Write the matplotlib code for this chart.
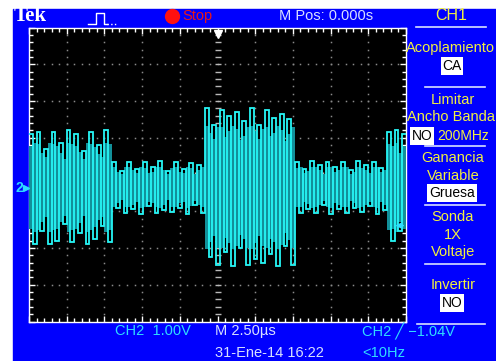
import numpy as np
import matplotlib
matplotlib.use("Agg")
import matplotlib.pyplot as plt
from matplotlib.patches import Rectangle
from matplotlib.lines import Line2D
from matplotlib.ticker import MultipleLocator

# time segments (us) and half-cycle levels (V)
seg_bounds = [-12.5, -7.0, -0.83, 5.13, 11.25, 12.5]
seg1 = [1.45, -1.55, 1.50, -1.20, 1.05, -1.55, 1.50, -1.45, 1.20, -1.00, 1.55,
        -1.50, 1.45, -1.25, 1.00, -1.55, 1.50, -1.40, 1.15, -1.05, 1.55, -1.50]
seg2 = [0.70, -0.55, 0.45, -0.70, 0.70, -0.60, 0.50, -0.72, 0.68, -0.50, 0.55, -0.70,
        0.72, -0.62, 0.45, -0.68, 0.70, -0.55, 0.50, -0.72, 0.66, -0.48, 0.60, -0.70]
seg3 = [2.15, -1.90, 1.70, -2.10, 2.10, -1.75, 1.95, -2.15, 2.05, -1.65, 1.80, -2.10,
        2.15, -1.95, 1.70, -2.05, 2.10, -1.80, 1.90, -2.15, 2.00, -1.60, 1.85, -2.10]
seg4 = [0.68, -0.70, 0.50, -0.58, 0.72, -0.70, 0.62, -0.48, 0.70, -0.72, 0.55, -0.60,
        0.70, -0.70, 0.48, -0.55, 0.72, -0.68, 0.60, -0.50, 0.70, -0.72, 0.52, -0.62]
seg5 = [1.50, -1.45, 1.55, -1.20, 1.45]
segments = [seg1, seg2, seg3, seg4, seg5]

ground = -0.35     # ground marker, in divisions from centre
volts_div = 1.00
trig_level = -1.04

W, H = 496, 361
YEL = '#f2f040'
CYAN = '#30dcff'
PALE = '#d8e0ff'
NARROW = ['Liberation Sans Narrow', 'Liberation Sans', 'DejaVu Sans']

fig = plt.figure(figsize=(W / 100, H / 100), dpi=100)
fig.patch.set_facecolor('white')
fig.add_artist(Rectangle((13 / W, 0), 1 - 13 / W, 1 - 9 / H,
                         transform=fig.transFigure, color='#0000fe', zorder=0))


def fx(x):
    return x / W


def fy(y):
    return 1 - y / H


def ftxt(x, y, s, color=YEL, size=10, ha='center', **kw):
    fig.text(fx(x), fy(y), s, color=color, fontsize=size, ha=ha, va='center',
             family=NARROW, **kw)


def hline(x0, x1, y, color=PALE):
    fig.add_artist(Line2D([fx(x0), fx(x1)], [fy(y), fy(y)], color=color, lw=1.2))


def boxed(x, y, s):
    ftxt(x, y, s, color='black', size=10,
         bbox=dict(boxstyle='square,pad=0.12', fc='white', ec='none'))


ax = fig.add_axes([fx(29), fy(321.5), 377 / W, 294 / H])
ax.set_facecolor('black')
ax.set_xlim(-12.5, 12.5)
ax.set_ylim(-4, 4)

# graticule
for gx in np.arange(-10, 12.5, 2.5):
    if gx == 0:
        continue
    yy = np.arange(-4, 4.01, 0.2)
    ax.plot(np.full_like(yy, gx), yy, 's', ms=1.1, color='#8a8a8a', mew=0)
for gy in np.arange(-3, 4, 1.0):
    if gy == 0:
        continue
    xx = np.arange(-12.5, 12.51, 0.5)
    ax.plot(xx, np.full_like(xx, gy), 's', ms=1.1, color='#8a8a8a', mew=0)
yy = np.arange(-4, 4.01, 0.2)
ax.plot(np.zeros_like(yy), yy, '_', ms=4, color='#b8b8b8', mew=1)
xx = np.arange(-12.5, 12.51, 0.5)
ax.plot(xx, np.zeros_like(xx), '|', ms=4, color='#b8b8b8', mew=1)

ax.xaxis.set_major_locator(MultipleLocator(2.5))
ax.xaxis.set_minor_locator(MultipleLocator(0.5))
ax.yaxis.set_major_locator(MultipleLocator(1))
ax.yaxis.set_minor_locator(MultipleLocator(0.2))
ax.tick_params(which='both', direction='in', color='white', top=True, right=True,
               labelbottom=False, labelleft=False, width=1)
ax.tick_params(which='major', length=4)
ax.tick_params(which='minor', length=3)
for sp in ax.spines.values():
    sp.set_color('white')
    sp.set_linewidth(1)

# CH2 trace
edges = [seg_bounds[0]]
levels = []
for i, seg in enumerate(segments):
    e = np.linspace(seg_bounds[i], seg_bounds[i + 1], len(seg) + 1)
    edges.extend(e[1:])
    levels.extend(seg)
edges = np.array(edges)
amp = np.array(levels) / volts_div
# dim persistence band behind the bright trace
band = np.abs(amp) * 0.78
ax.stairs(ground + band, edges, baseline=ground - band, fill=True,
          color='#12909a', zorder=3)
ax.stairs(amp + ground, edges, baseline=None, color='#26f6f6', lw=1.3, zorder=4)

# markers
ax.plot(0, 3.82, 'v', color='white', ms=6, clip_on=False, zorder=6)
ty = trig_level / volts_div + ground
ax.annotate('', xy=(11.6, ty), xytext=(12.5, ty),
            arrowprops=dict(arrowstyle='-|>', color=CYAN, lw=1.2, mutation_scale=8),
            zorder=6)
ftxt(19, 188, '2', color=CYAN, size=10, weight='bold')
fig.add_artist(Line2D([fx(26)], [fy(188)], marker='>', ms=4, color=CYAN))

# top bar
fig.text(fx(14), fy(16), 'Tek', color='white', fontsize=15, weight='bold',
         family=['Liberation Serif', 'DejaVu Serif'], ha='left', va='center')
px = [88, 96, 96, 98, 98, 104, 104, 107]
py = [24, 24, 13, 13, 13, 13, 24, 24]
fig.add_artist(Line2D([fx(v) for v in px], [fy(v) for v in py], color='white', lw=1))
fig.add_artist(Line2D([fx(107), fx(117)], [fy(24), fy(24)], color='white', lw=1, ls=':'))
fig.add_artist(Line2D([fx(172)], [fy(16)], marker='o', ms=11, color='#ff1010', mew=0))
ftxt(182, 16, 'Stop', color='#e81818', size=10.5, ha='left')
ftxt(326, 16, 'M Pos: 0.000s', color=PALE, size=10.5)
ftxt(451, 15, 'CH1', size=11.5)
hline(416, 486, 27)

# side menu
ftxt(450, 48, 'Acoplamiento', size=10.5)
boxed(452, 66, 'CA')
hline(425, 485, 87)
ftxt(453, 100, 'Limitar', size=10.5)
ftxt(451, 117, 'Ancho Banda', size=10.5)
boxed(422, 136, 'NO')
ftxt(437, 136, '200MHz', size=10, ha='left')
hline(425, 485, 146)
ftxt(453, 158, 'Ganancia', size=10.5)
ftxt(453, 176, 'Variable', size=10.5)
boxed(452, 193, 'Gruesa')
hline(425, 485, 205)
ftxt(453, 217, 'Sonda', size=10.5)
ftxt(453, 235, '1X', size=10.5)
ftxt(453, 252, 'Voltaje', size=10.5)
hline(425, 485, 264)
ftxt(453, 285, 'Invertir', size=10.5)
boxed(452, 303, 'NO')
hline(417, 485, 324)

# bottom status
ftxt(115, 331, 'CH2  1.00V', color=CYAN, size=10.5, ha='left')
ftxt(215, 331, 'M 2.50\u00b5s', color=PALE, size=10.5, ha='left')
ftxt(362, 331, 'CH2 \u2571 \u22121.04V', color=CYAN, size=10.5, ha='left')
ftxt(215, 353, '31-Ene-14 16:22', color=PALE, size=10.5, ha='left')
ftxt(362, 353, '<10Hz', color=CYAN, size=10.5, ha='left')

fig.savefig('out.png', dpi=100)
